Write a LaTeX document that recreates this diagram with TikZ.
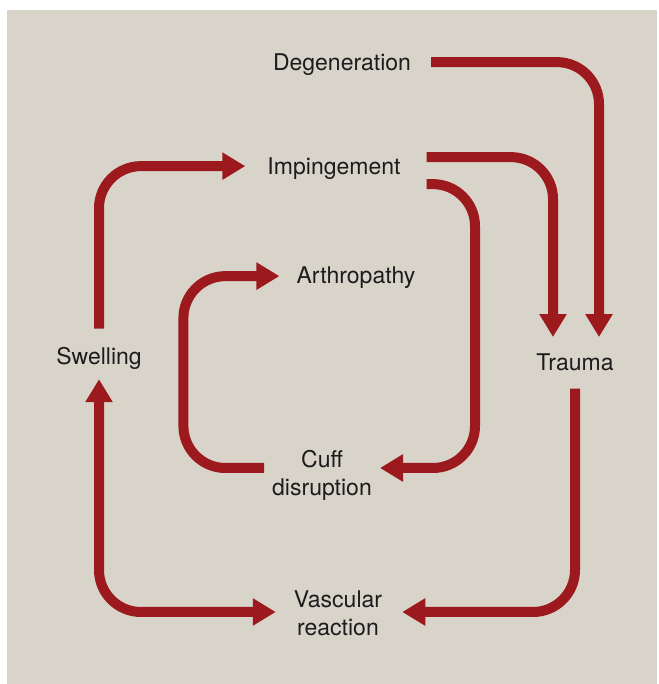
\documentclass[tikz,border=0pt]{standalone}
\usepackage{fontspec}
\setmainfont{TeX Gyre Heros}
\usepackage{tikz}
\usetikzlibrary{arrows.meta, positioning, calc}
\usepackage{xcolor}
\definecolor{panelcolor}{HTML}{D8D4CA}
\definecolor{flowcolor}{HTML}{9C1A1E}
\definecolor{labelcolor}{HTML}{1C1C1C}

\begin{document}
\begin{tikzpicture}[x=1pt, y=1pt,
    label/.style={inner sep=0pt, text=labelcolor, align=center,
        font=\fontsize{23}{28}\selectfont},
    flow/.style={draw=flowcolor, line width=10pt, rounded corners=42pt,
        -{Triangle[length=23pt, width=26pt]}},
    bothflow/.style={flow, {Triangle[length=23pt, width=26pt]}-{Triangle[length=23pt, width=26pt]}}]
    % Panel
    \useasboundingbox (0,0) rectangle (658,684);
    \fill[panelcolor] (7,0) rectangle (657,674);

    % Labels
    \node[label, anchor=base] (degen) at (342,613.5) {Degeneration};
    \node[label, anchor=base] (imping) at (334,509.5) {Impingement};
    \node[label, anchor=base] (arthro) at (356,400.5) {Arthropathy};
    \node[label, anchor=base] (swell) at (99,319.5) {Swelling};
    \node[label, anchor=base] (trauma) at (575,313.5) {Trauma};
    \node[label] (cuff) at (322,208.5) {Cuff\\disruption};
    \node[label] (vasc) at (338,70.5) {Vascular\\reaction};

    % Outer loop
    \draw[flow] ([xshift=20pt, yshift=2.5pt]degen.east) -| ([xshift=24pt, yshift=16.5pt]trauma.north);
    \draw[flow] ([xshift=26pt, yshift=11.5pt]imping.east) -| ([xshift=-22pt, yshift=16.5pt]trauma.north);
    \draw[flow] ([yshift=-17.5pt]trauma.south) |- ([xshift=20pt, yshift=1.5pt]vasc.east);
    \draw[bothflow] ([yshift=-9.5pt]swell.south) |- ([xshift=-18pt, yshift=1.5pt]vasc.west);
    \draw[flow] ([yshift=18.5pt]swell.north) |- ([xshift=-22pt, yshift=2.5pt]imping.west);

    % Inner loop
    \draw[flow] ([xshift=26pt, yshift=-15.5pt]imping.east) -| ([xshift=103pt, yshift=7.5pt]cuff.east)
        -- ([xshift=8pt, yshift=7.5pt]cuff.east);
    \draw[flow] ([xshift=-8pt, yshift=7.5pt]cuff.west) -| ([xshift=-113pt, yshift=1.5pt]arthro.west)
        -- ([xshift=-17pt, yshift=1.5pt]arthro.west);
\end{tikzpicture}
\end{document}
